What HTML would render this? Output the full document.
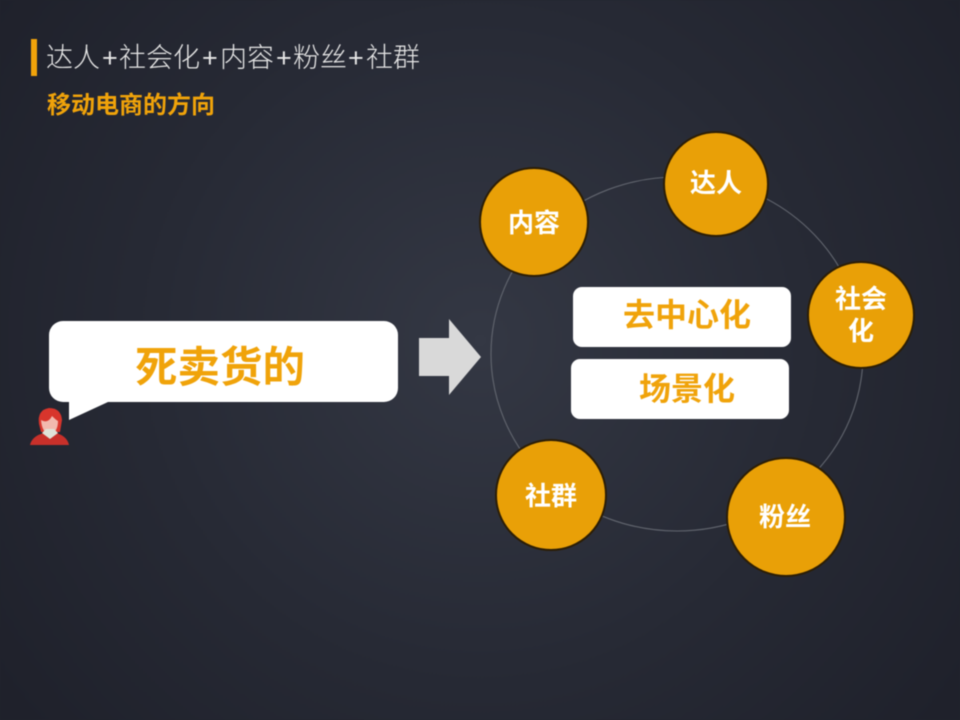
<!DOCTYPE html>
<html lang="zh"><head><meta charset="utf-8"><style>
html,body{margin:0;padding:0;width:960px;height:720px;overflow:hidden;background:#22242e}
svg{display:block;filter:blur(.5px)}
text{font-family:"Liberation Sans","Noto Sans CJK SC",sans-serif;text-anchor:middle}
.c{fill:#e9a007;stroke:#2b1d05;stroke-width:2}
.w{fill:#fff;font-weight:700;font-size:26px}
.o{fill:#f0a30a;font-weight:700}
.t{text-anchor:start;font-size:27px;font-weight:300;fill:#e6e6e6}
</style></head><body>
<svg width="960" height="720" viewBox="0 0 960 720" xmlns="http://www.w3.org/2000/svg">
<defs><radialGradient id="g" gradientUnits="userSpaceOnUse" cx="480" cy="340" r="600"><stop offset="0" stop-color="#343844"/><stop offset=".55" stop-color="#272a35"/><stop offset="1" stop-color="#1f212b"/></radialGradient></defs>
<rect width="960" height="720" fill="url(#g)"/>
<rect x="31" y="39" width="6" height="37" fill="#f0a30a"/>
<text x="46" y="67" class="t">达人</text>
<text x="102" y="67" class="t">+</text>
<text x="119" y="67" class="t">社会化</text>
<text x="202" y="67" class="t">+</text>
<text x="220" y="67" class="t">内容</text>
<text x="276" y="67" class="t">+</text>
<text x="293" y="67" class="t">粉丝</text>
<text x="348" y="67" class="t">+</text>
<text x="366" y="67" class="t">社群</text>
<text x="47" y="113" class="o" style="text-anchor:start;font-size:24px">移动电商的方向</text>

<rect x="49" y="321" width="349" height="81" rx="14" fill="#fff"/>
<path d="M69 398 L69 420 L108 402 Z" fill="#fff"/>
<text x="220" y="382" class="o" style="font-size:42.5px">死卖货的</text>

<path d="M39 424 Q37 410 49 408 Q61 408 62 420 L60 432 L41 432 Z" fill="#d8352c"/>
<path d="M41 420 Q48 424 52 416 Q56 420 58 421 Q58 432 50 435 Q42 433 41 420Z" fill="#f2b9ae"/>
<path d="M30 445 Q32 436 44 433 L56 433 Q67 436 69 445 Z" fill="#c8302a"/>
<path d="M42 433 L50 439 L58 433 L54 429 L46 429 Z" fill="#dfe3d8"/>

<path d="M419 338 H449 V319 L481 357 L449 395 V376 H419 Z" fill="#d9d9d9"/>

<ellipse cx="677" cy="354" rx="186" ry="177" fill="none" stroke="#62666f" stroke-width="1.1"/>

<circle cx="716" cy="184" r="52" class="c"/>
<text x="716" y="192" class="w">达人</text>
<circle cx="534" cy="222" r="54" class="c"/>
<text x="534" y="232" class="w">内容</text>
<circle cx="861" cy="315" r="53" class="c"/>
<text x="861" y="308" class="w">社会</text>
<text x="861" y="340" class="w">化</text>
<circle cx="786" cy="517" r="59" class="c"/>
<text x="785" y="526" class="w">粉丝</text>
<circle cx="551" cy="495" r="55" class="c"/>
<text x="551" y="505" class="w">社群</text>

<rect x="573" y="287" width="218" height="60" rx="9" fill="#fff"/>
<text x="687" y="326" class="o" style="font-size:32px">去中心化</text>
<rect x="571" y="359" width="218" height="60" rx="9" fill="#fff"/>
<text x="687" y="400" class="o" style="font-size:32px">场景化</text>
</svg>
</body></html>
